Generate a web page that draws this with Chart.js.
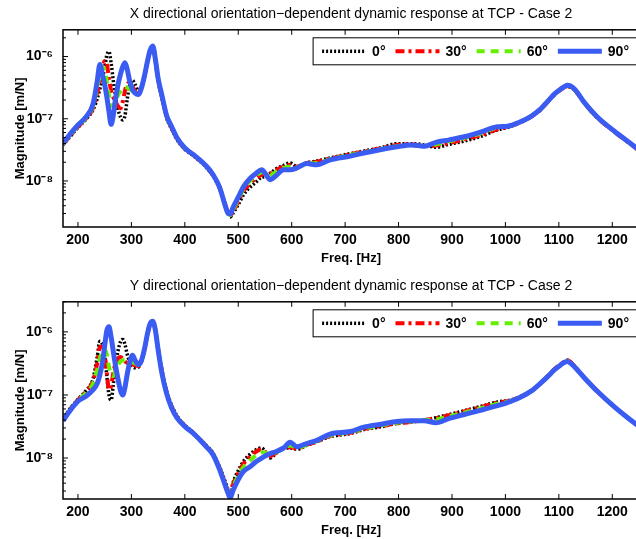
<!DOCTYPE html>
<html>
<head>
<meta charset="utf-8">
<script src="https://cdn.jsdelivr.net/npm/chart.js@4"></script>
<style>
  body { margin: 0; width: 636px; height: 539px; overflow: hidden; background: #fff; }
  .box { position: relative; width: 639px; }
</style>
</head>
<body>
<div class="box" style="height:270px"><canvas id="chartX"></canvas></div>
<div class="box" style="height:269px"><canvas id="chartY"></canvas></div>
<script>
// frequency grid [Hz]
const freq = [
  172, 185, 200, 215, 228, 236, 241, 246, 250, 254,
  258, 262, 266, 270, 275, 280, 284, 288, 292, 297,
  302, 307, 313, 319, 325, 330, 335, 340, 345, 350,
  357, 366, 375, 385, 400, 415, 428, 440, 453, 465,
  475, 481, 485, 490, 500, 510, 522, 533, 544, 552,
  560, 570, 585, 597, 610, 628, 647, 672, 710, 735,
  770, 797, 823, 848, 870, 895, 923, 955, 985, 1004,
  1025, 1048, 1065, 1079, 1092, 1104, 1111, 1116, 1121, 1130,
  1148, 1173, 1204, 1230, 1250
];

// magnitudes, stored as log10 of [m/N]
const x0 = [
  -7.42, -7.29, -7.14, -7.01, -6.86, -6.68, -6.52, -6.35, -6.17, -5.98,
  -5.92, -6.10, -6.38, -6.62, -6.85, -6.98, -7.02, -6.95, -6.70, -6.45,
  -6.38, -6.45, -6.55, -6.48, -6.30, -6.09, -5.91, -5.84, -6.06, -6.38,
  -6.66, -6.99, -7.16, -7.33, -7.49, -7.59, -7.68, -7.78, -7.92, -8.12,
  -8.36, -8.50, -8.58, -8.52, -8.38, -8.22, -8.10, -8.02, -7.94, -7.93,
  -7.88, -7.81, -7.75, -7.71, -7.77, -7.71, -7.68, -7.63, -7.56, -7.52,
  -7.46, -7.40, -7.40, -7.42, -7.46, -7.41, -7.36, -7.28, -7.18, -7.14,
  -7.07, -6.97, -6.86, -6.73, -6.61, -6.53, -6.49, -6.48, -6.49, -6.54,
  -6.75, -6.99, -7.21, -7.38, -7.51
];
const x30 = [
  -7.41, -7.28, -7.13, -7.00, -6.83, -6.58, -6.40, -6.20, -6.07, -6.12,
  -6.35, -6.55, -6.65, -6.72, -6.80, -6.83, -6.72, -6.55, -6.44, -6.42,
  -6.48, -6.56, -6.60, -6.49, -6.30, -6.08, -5.90, -5.84, -6.06, -6.37,
  -6.64, -6.97, -7.14, -7.32, -7.48, -7.58, -7.67, -7.77, -7.91, -8.11,
  -8.37, -8.51, -8.56, -8.49, -8.33, -8.16, -8.04, -7.96, -7.90, -7.89,
  -7.88, -7.83, -7.77, -7.74, -7.77, -7.71, -7.69, -7.64, -7.57, -7.53,
  -7.47, -7.42, -7.41, -7.44, -7.43, -7.39, -7.33, -7.26, -7.17, -7.13,
  -7.07, -6.97, -6.86, -6.73, -6.61, -6.53, -6.49, -6.48, -6.49, -6.54,
  -6.75, -6.99, -7.21, -7.38, -7.51
];
const x60 = [
  -7.41, -7.27, -7.12, -6.99, -6.80, -6.50, -6.28, -6.18, -6.22, -6.40,
  -6.62, -6.78, -6.80, -6.72, -6.62, -6.55, -6.50, -6.49, -6.50, -6.52,
  -6.56, -6.60, -6.61, -6.50, -6.29, -6.08, -5.90, -5.83, -6.05, -6.36,
  -6.63, -6.96, -7.13, -7.31, -7.47, -7.57, -7.66, -7.76, -7.90, -8.10,
  -8.37, -8.52, -8.55, -8.47, -8.30, -8.13, -8.00, -7.92, -7.86, -7.88,
  -7.90, -7.86, -7.79, -7.77, -7.78, -7.72, -7.71, -7.65, -7.58, -7.54,
  -7.48, -7.44, -7.42, -7.44, -7.41, -7.36, -7.31, -7.23, -7.14, -7.12,
  -7.06, -6.96, -6.85, -6.72, -6.60, -6.52, -6.48, -6.47, -6.48, -6.54,
  -6.75, -6.98, -7.20, -7.37, -7.50
];
const x90 = [
  -7.40, -7.25, -7.10, -6.97, -6.77, -6.40, -6.13, -6.30, -6.45, -6.65,
  -6.88, -7.09, -6.95, -6.70, -6.45, -6.27, -6.16, -6.10, -6.20, -6.40,
  -6.53, -6.59, -6.61, -6.50, -6.29, -6.08, -5.90, -5.83, -6.05, -6.35,
  -6.62, -6.95, -7.12, -7.30, -7.47, -7.57, -7.66, -7.76, -7.90, -8.10,
  -8.38, -8.52, -8.53, -8.43, -8.26, -8.09, -7.96, -7.88, -7.82, -7.90,
  -7.98, -7.92, -7.82, -7.82, -7.79, -7.72, -7.74, -7.66, -7.60, -7.55,
  -7.49, -7.45, -7.42, -7.44, -7.38, -7.34, -7.29, -7.21, -7.13, -7.12,
  -7.06, -6.96, -6.85, -6.72, -6.60, -6.52, -6.48, -6.46, -6.47, -6.53,
  -6.74, -6.98, -7.20, -7.37, -7.50
];

const y0 = [
  -7.40, -7.22, -7.07, -6.93, -6.75, -6.40, -6.15, -6.20, -6.38, -6.70,
  -7.00, -7.08, -6.85, -6.55, -6.30, -6.15, -6.12, -6.20, -6.35, -6.48,
  -6.55, -6.57, -6.56, -6.46, -6.26, -6.04, -5.88, -5.84, -5.97, -6.26,
  -6.60, -6.94, -7.16, -7.33, -7.48, -7.59, -7.70, -7.80, -7.93, -8.14,
  -8.36, -8.50, -8.58, -8.40, -8.20, -8.05, -7.94, -7.87, -7.84, -7.92,
  -8.00, -7.93, -7.85, -7.84, -7.86, -7.80, -7.74, -7.66, -7.61, -7.55,
  -7.50, -7.45, -7.43, -7.40, -7.36, -7.31, -7.25, -7.18, -7.11, -7.09,
  -7.04, -6.94, -6.82, -6.70, -6.59, -6.51, -6.47, -6.45, -6.47, -6.55,
  -6.73, -6.95, -7.19, -7.37, -7.50
];
const y30 = [
  -7.40, -7.23, -7.08, -6.95, -6.78, -6.50, -6.24, -6.24, -6.35, -6.65,
  -6.92, -6.86, -6.66, -6.50, -6.42, -6.40, -6.43, -6.47, -6.49, -6.50,
  -6.51, -6.53, -6.54, -6.46, -6.26, -6.04, -5.88, -5.84, -5.97, -6.27,
  -6.62, -6.96, -7.18, -7.34, -7.49, -7.60, -7.70, -7.81, -7.94, -8.16,
  -8.39, -8.53, -8.60, -8.43, -8.24, -8.09, -7.98, -7.90, -7.86, -7.92,
  -7.97, -7.92, -7.85, -7.83, -7.85, -7.79, -7.74, -7.65, -7.60, -7.54,
  -7.49, -7.45, -7.43, -7.40, -7.37, -7.32, -7.26, -7.19, -7.12, -7.10,
  -7.04, -6.94, -6.82, -6.70, -6.59, -6.51, -6.47, -6.45, -6.47, -6.55,
  -6.73, -6.95, -7.19, -7.37, -7.50
];
const y60 = [
  -7.40, -7.24, -7.09, -6.97, -6.82, -6.60, -6.42, -6.30, -6.28, -6.36,
  -6.55, -6.68, -6.70, -6.62, -6.52, -6.47, -6.45, -6.45, -6.46, -6.47,
  -6.48, -6.50, -6.52, -6.45, -6.25, -6.03, -5.87, -5.83, -5.98, -6.28,
  -6.64, -6.97, -7.19, -7.35, -7.50, -7.60, -7.71, -7.82, -7.95, -8.17,
  -8.41, -8.55, -8.61, -8.47, -8.28, -8.14, -8.04, -7.96, -7.91, -7.92,
  -7.94, -7.91, -7.85, -7.80, -7.84, -7.79, -7.73, -7.64, -7.59, -7.53,
  -7.48, -7.44, -7.42, -7.40, -7.39, -7.34, -7.28, -7.21, -7.14, -7.11,
  -7.05, -6.94, -6.82, -6.71, -6.60, -6.52, -6.48, -6.46, -6.48, -6.56,
  -6.73, -6.95, -7.19, -7.37, -7.50
];
const y90 = [
  -7.41, -7.25, -7.10, -7.02, -6.92, -6.82, -6.68, -6.48, -6.22, -5.98,
  -5.92, -6.08, -6.30, -6.52, -6.75, -6.94, -7.00, -6.88, -6.68, -6.48,
  -6.37, -6.45, -6.52, -6.45, -6.25, -6.03, -5.87, -5.83, -5.98, -6.28,
  -6.65, -6.98, -7.20, -7.36, -7.50, -7.60, -7.71, -7.82, -7.95, -8.18,
  -8.42, -8.56, -8.63, -8.52, -8.34, -8.21, -8.14, -8.06, -8.00, -7.96,
  -7.93, -7.90, -7.84, -7.75, -7.82, -7.77, -7.72, -7.62, -7.58, -7.51,
  -7.46, -7.42, -7.41, -7.41, -7.44, -7.37, -7.31, -7.24, -7.17, -7.12,
  -7.05, -6.94, -6.82, -6.71, -6.60, -6.52, -6.48, -6.47, -6.49, -6.56,
  -6.73, -6.95, -7.19, -7.37, -7.50
];

const angles = ['0°', '30°', '60°', '90°'];
const xTicks = [200, 300, 400, 500, 600, 700, 800, 900, 1000, 1100, 1200];

Chart.defaults.font.family = '"Liberation Sans", Arial, sans-serif';
Chart.defaults.color = '#000';

const styles = [
  { borderColor: '#000000', borderWidth: 3.5, borderDash: [2, 2], order: 3 },
  { borderColor: '#ff0000', borderWidth: 4, borderDash: [9, 4, 3, 4], order: 2 },
  { borderColor: '#66ee00', borderWidth: 4, borderDash: [8, 6], order: 1 },
  { borderColor: '#3a5cf2', borderWidth: 5, borderDash: [], order: 0 }
];

function sup(n) {
  const map = { '-': '⁻', '0': '⁰', '1': '¹', '2': '²', '3': '³', '4': '⁴', '5': '⁵', '6': '⁶', '7': '⁷', '8': '⁸', '9': '⁹' };
  return String(n).split('').map(c => map[c]).join('');
}
function isDecade(v) {
  const e = Math.log10(v);
  return Math.abs(e - Math.round(e)) < 1e-9;
}
function isWholeMantissa(v) {
  const e = Math.floor(Math.log10(v) + 1e-9);
  const m = v / Math.pow(10, e);
  return Math.abs(m - Math.round(m)) < 1e-6;
}

// axes box, inward ticks and boxed legend
const frame = {
  id: 'frame',
  afterDraw(chart) {
    const { ctx, chartArea: a, scales } = chart;
    ctx.save();
    ctx.strokeStyle = '#000';
    ctx.lineWidth = 1;
    ctx.setLineDash([]);
    scales.x.ticks.forEach(t => {
      const px = scales.x.getPixelForValue(t.value);
      ctx.beginPath();
      ctx.moveTo(px, a.bottom); ctx.lineTo(px, a.bottom - 5);
      ctx.moveTo(px, a.top); ctx.lineTo(px, a.top + 5);
      ctx.stroke();
    });
    scales.y.ticks.forEach(t => {
      if (!isWholeMantissa(t.value)) return;
      const py = scales.y.getPixelForValue(t.value);
      const len = isDecade(t.value) ? 5 : 3;
      ctx.beginPath();
      ctx.moveTo(a.left, py); ctx.lineTo(a.left + len, py);
      ctx.stroke();
    });
    ctx.lineWidth = 1.5;
    ctx.strokeRect(a.left, a.top, a.right - a.left, a.bottom - a.top);

    // legend
    ctx.font = 'bold 14px "Liberation Sans", Arial, sans-serif';
    const lineLen = 44, gap = 6, sep = 10, pad = 9;
    const sets = chart.data.datasets;
    let w = pad * 2;
    sets.forEach((ds, i) => {
      w += lineLen + gap + ctx.measureText(ds.label).width;
      if (i < sets.length - 1) w += sep;
    });
    const h = 27;
    const left = a.right - w - 1;
    const top = a.top + 8;
    ctx.fillStyle = '#fff';
    ctx.fillRect(left, top, w, h);
    ctx.lineWidth = 1;
    ctx.strokeRect(left, top, w, h);
    let x = left + pad;
    const cy = top + h / 2;
    sets.forEach(ds => {
      ctx.save();
      ctx.strokeStyle = ds.borderColor;
      ctx.lineWidth = ds.borderWidth;
      ctx.setLineDash(ds.borderDash);
      ctx.beginPath();
      ctx.moveTo(x, cy); ctx.lineTo(x + lineLen, cy);
      ctx.stroke();
      ctx.restore();
      x += lineLen + gap;
      ctx.fillStyle = '#000';
      ctx.textBaseline = 'middle';
      ctx.fillText(ds.label, x, cy + 1);
      x += ctx.measureText(ds.label).width + sep;
    });
    ctx.restore();
  }
};

function makeChart(id, title, series, yMin, yMax, pads) {
  new Chart(document.getElementById(id), {
    type: 'line',
    data: {
      datasets: series.map((s, i) => Object.assign({
        label: angles[i],
        data: freq.map((f, k) => ({ x: f, y: Math.pow(10, s[k]) })),
        pointRadius: 0,
        fill: false,
        cubicInterpolationMode: 'monotone'
      }, styles[i]))
    },
    options: {
      responsive: true,
      maintainAspectRatio: false,
      animation: false,
      events: [],
      layout: { padding: 0 },
      plugins: {
        legend: { display: false },
        tooltip: { enabled: false },
        title: {
          display: true,
          text: title,
          fullSize: false,
          font: { size: 14, weight: 'normal' },
          padding: { top: pads.titleTop, bottom: pads.titleBottom }
        }
      },
      scales: {
        x: {
          type: 'linear',
          min: 172,
          max: 1250,
          grid: { display: false, drawTicks: false },
          border: { display: false },
          afterBuildTicks: scale => { scale.ticks = xTicks.map(v => ({ value: v })); },
          afterFit: scale => { scale.height = pads.xHeight; },
          ticks: {
            font: { size: 14, weight: 'bold' },
            padding: 5,
            maxRotation: 0,
            autoSkip: false,
            callback: v => String(v)
          },
          title: {
            display: true,
            text: 'Freq. [Hz]',
            font: { size: 13, weight: 'bold' },
            padding: { top: 0, bottom: pads.xTitleBottom }
          }
        },
        y: {
          type: 'logarithmic',
          min: yMin,
          max: yMax,
          grid: { display: false, drawTicks: false },
          border: { display: false },
          afterFit: scale => { scale.width = 63; },
          ticks: {
            autoSkip: false,
            padding: 10,
            font: { size: 14, weight: 'bold' },
            callback: v => isDecade(v) ? '10' + sup(Math.round(Math.log10(v))) : ''
          },
          title: {
            display: true,
            text: 'Magnitude [m/N]',
            font: { size: 13, weight: 'bold' },
            padding: { top: 13, bottom: 0 }
          }
        }
      }
    },
    plugins: [frame]
  });
}

makeChart('chartX', 'X directional orientation\u2212dependent dynamic response at TCP - Case 2',
  [x0, x30, x60, x90], 1.82e-9, 2.69e-6,
  { titleTop: 6, titleBottom: 7, xHeight: 43, xTitleBottom: 4 });
makeChart('chartY', 'Y directional orientation\u2212dependent dynamic response at TCP - Case 2',
  [y0, y30, y60, y90], 2.24e-9, 3.0e-6,
  { titleTop: 8, titleBottom: 7, xHeight: 40, xTitleBottom: 1 });
</script>
</body>
</html>
